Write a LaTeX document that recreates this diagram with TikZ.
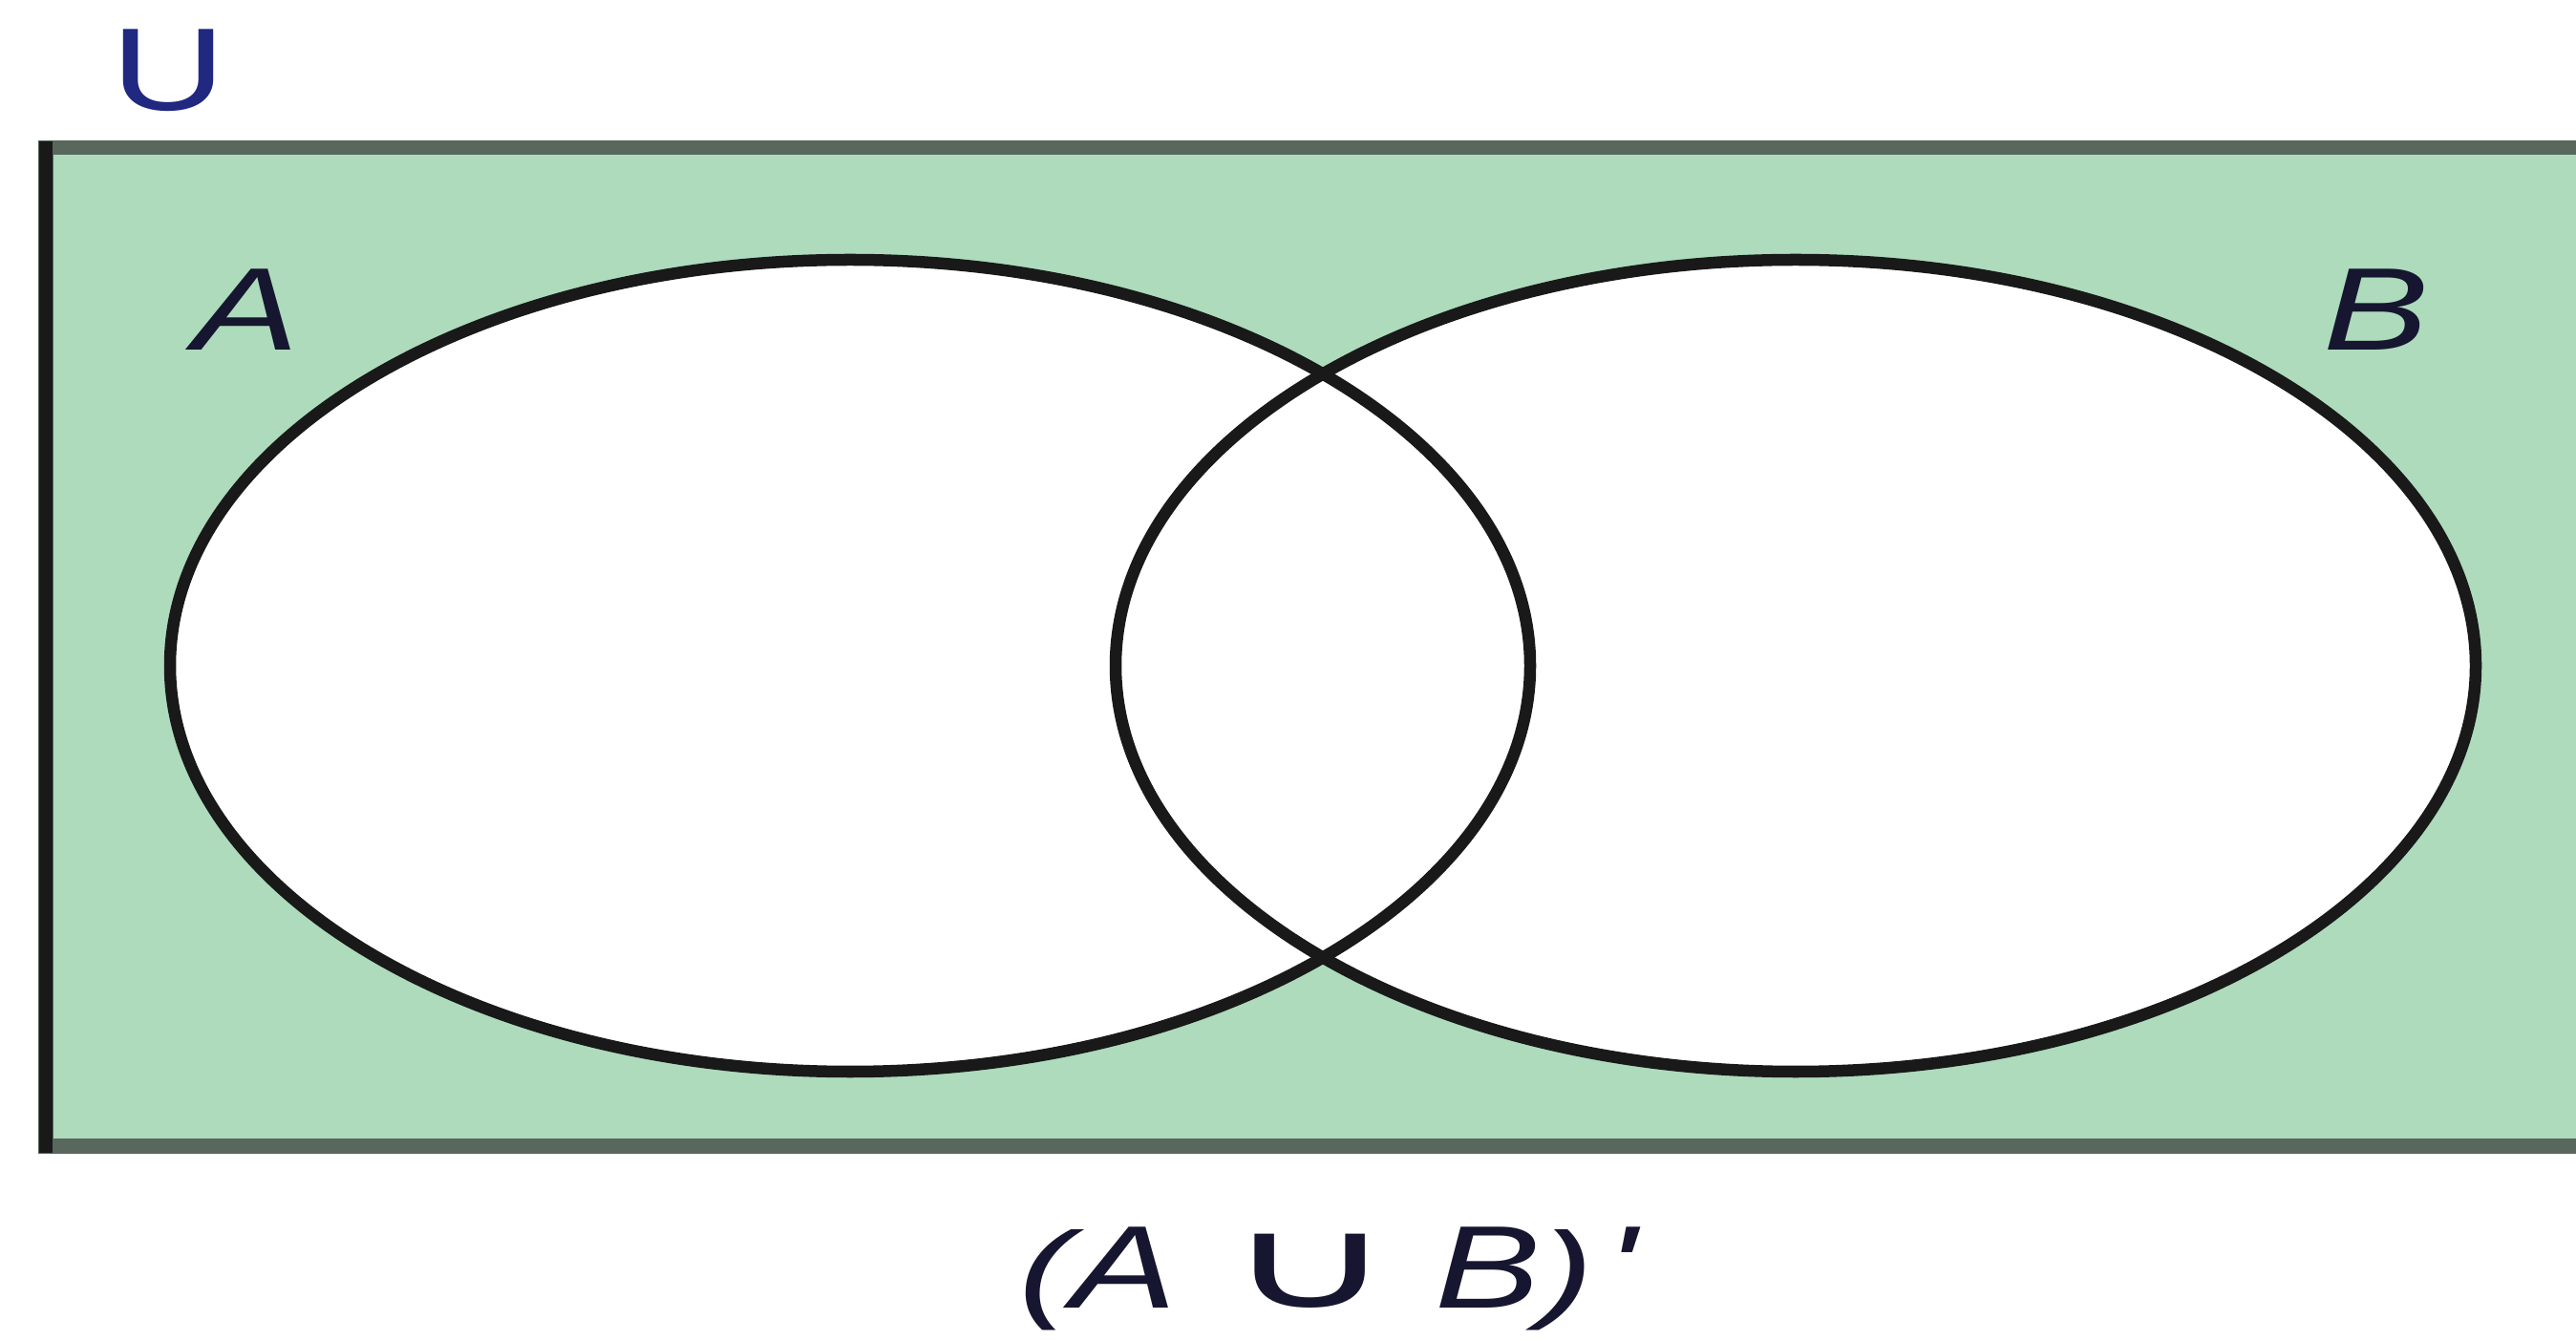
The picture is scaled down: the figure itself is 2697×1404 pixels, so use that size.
\documentclass[tikz,border=0pt]{standalone}
\usepackage{graphicx}
\usepackage{fontspec}
\setmainfont{Liberation Sans}
\newfontfamily\cupfont{DejaVu Sans}
\usetikzlibrary{positioning}
\definecolor{venngreen}{RGB}{173,219,188}
\definecolor{framegray}{RGB}{88,104,92}
\definecolor{ublue}{RGB}{32,40,128}
\definecolor{setink}{RGB}{22,22,48}
\newcommand{\wide}[1]{\scalebox{1.35}[1]{#1}}

\begin{document}
\begin{tikzpicture}[x=0.01cm,y=-0.01cm,
  setline/.style={draw=black!90, line width=0.125cm},
  setname/.style={font=\fontsize{35}{42}\selectfont\itshape, text=setink, inner sep=0pt, anchor=base},
  uname/.style={font=\fontsize{35}{42}\selectfont, text=ublue, inner sep=0pt, anchor=base}]
\useasboundingbox (0,0) rectangle (2697,1404);
\clip (0,0) rectangle (2697,1404);
% universe box (runs off the right edge)
\fill[venngreen] (48,155) rectangle (2760,1200);
\draw[framegray, line width=0.15cm] (2760,155) -- (48,155) -- (48,1200) -- (2760,1200);
\draw[black!90, line width=0.13cm] (48,148) -- (48,1207);
% the two sets
\fill[white] (890,697) ellipse [x radius=712, y radius=425];
\fill[white] (1880,697) ellipse [x radius=712, y radius=425];
\draw[setline] (890,697) ellipse [x radius=712, y radius=425];
\draw[setline] (1880,697) ellipse [x radius=712, y radius=425];
% labels
\node[uname] (u) at (176,116) {\wide{U}};
\node[setname] (a) at (258,367) {\wide{A}};
\node[setname] (b) at (2488,367) {\wide{B}};
\node[setname] (cap) at (1390,1369)
  {\wide{\scalebox{1}[0.92]{(}A\hspace{0.3em}{\upshape\cupfont\fontsize{38}{38}\selectfont\scalebox{1.35}[1]{∪}}\hspace{0.25em}B\scalebox{1}[0.92]{)}\hspace{0.08em}\textquotesingle}};
\end{tikzpicture}
\end{document}
